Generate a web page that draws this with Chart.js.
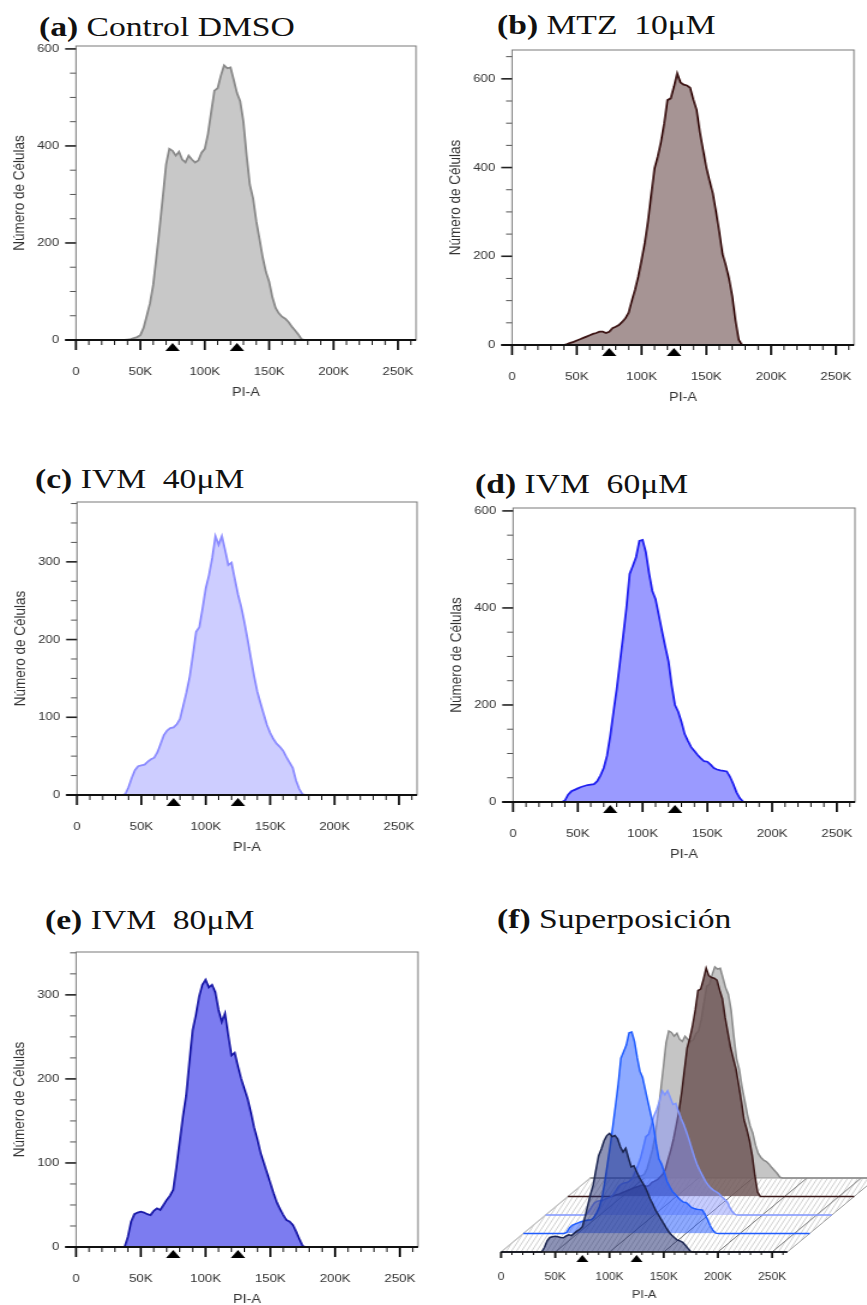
<!DOCTYPE html>
<html>
<head>
<meta charset="utf-8">
<script src="https://cdn.jsdelivr.net/npm/chart.js@4.4.1/dist/chart.umd.min.js"></script>
<style>
html, body { margin: 0; padding: 0; background: #fff; }
body { position: relative; width: 867px; height: 1305px; overflow: hidden; }
.ttl { position: absolute; font-family: "Liberation Serif", "Times New Roman", serif; font-size: 28px; line-height: 28px;
       white-space: nowrap; color: #111; transform: scaleX(1.2); transform-origin: 0 0; }
canvas { position: absolute; }
</style>
</head>
<body>
<div class="ttl" style="left:39px;top:12.6px"><b>(a)</b> Control DMSO</div>
<div class="ttl" style="left:497px;top:10.6px"><b>(b)</b> MTZ&nbsp; 10μM</div>
<div class="ttl" style="left:35px;top:464.6px"><b>(c)</b> IVM&nbsp; 40μM</div>
<div class="ttl" style="left:475px;top:469.6px"><b>(d)</b> IVM&nbsp; 60μM</div>
<div class="ttl" style="left:45px;top:905.6px"><b>(e)</b> IVM&nbsp; 80μM</div>
<div class="ttl" style="left:497px;top:904.6px"><b>(f)</b> Superposición</div>

<canvas id="cA"></canvas>
<canvas id="cB"></canvas>
<canvas id="cC"></canvas>
<canvas id="cD"></canvas>
<canvas id="cE"></canvas>
<canvas id="cF"></canvas>

<script>
// PI-A channel (thousands) and cell counts
const binsK = [0, 35, 37.5, 40, 42.5, 45, 47.5, 50, 52.5, 55, 57.5, 60, 62.5, 65, 67.5, 70, 72.5, 75, 77.5, 80, 82.5,
  85, 87.5, 90, 92.5, 95, 97.5, 100, 102.5, 105, 107.5, 110, 112.5, 115, 117.5, 120, 122.5, 125, 127.5, 130, 132.5,
  135, 137.5, 140, 142.5, 145, 147.5, 150, 152.5, 155, 157.5, 160, 162.5, 165, 167.5, 170, 172.5, 175, 177.5, 180, 264];

const controlDMSO = [0, 0, 0, 1, 2, 4, 6, 10, 25, 50, 76, 114, 172, 232, 296, 362, 394, 390, 380, 388, 372,
  366, 380, 372, 366, 370, 386, 394, 425, 470, 514, 519, 545, 566, 560, 562, 536, 509, 492, 450, 380,
  320, 292, 245, 208, 170, 140, 120, 88, 66, 55, 48, 44, 37, 28, 20, 12, 2, 0, 0, 0];

const mtz10 = [0, 0, 0, 0, 2, 5, 7, 10, 13, 16, 19, 22, 25, 27, 30, 30, 27, 30, 38, 41, 45,
  52, 60, 73, 100, 125, 155, 192, 230, 280, 340, 398, 425, 458, 500, 552, 556, 582, 612, 592, 587,
  585, 580, 553, 530, 480, 440, 400, 370, 342, 300, 255, 205, 180, 150, 110, 55, 12, 0, 0, 0];

const ivm40 = [0, 0, 1, 10, 22, 32, 37, 38, 39, 43, 46, 48, 55, 66, 77, 83, 86, 87, 91, 98, 115,
  132, 152, 180, 210, 216, 240, 266, 283, 305, 333, 322, 333, 315, 296, 299, 278, 258, 242, 222, 200,
  176, 153, 133, 118, 104, 90, 80, 72, 66, 62, 57, 49, 42, 35, 19, 8, 1, 0, 0, 0];

const ivm60 = [0, 0, 0, 3, 15, 22, 25, 28, 31, 33, 35, 36, 37, 43, 55, 70, 95, 136, 185, 232, 287,
  342, 400, 470, 487, 505, 538, 540, 515, 472, 435, 418, 385, 352, 320, 290, 240, 200, 186, 165, 140,
  126, 113, 105, 97, 90, 84, 83, 77, 70, 67, 65, 64, 63, 52, 37, 20, 8, 1, 0, 0];

const ivm80 = [0, 0, 0, 12, 30, 39, 41, 42, 41, 39, 38, 43, 46, 44, 50, 56, 61, 68, 95, 125, 155,
  180, 220, 258, 276, 298, 312, 318, 309, 312, 303, 282, 268, 278, 252, 228, 231, 215, 200, 188, 176,
  160, 142, 128, 112, 100, 88, 76, 64, 53, 45, 38, 32, 30, 26, 18, 9, 1, 0, 0, 0];

const markersK = [75, 125];
const xTickLabels = ['0', '50K', '100K', '150K', '200K', '250K'];

const S = 1.2; // the figure is stretched horizontally
const SANS = '"Liberation Sans", Arial, sans-serif';

function pts(vals) {
  return binsK.map((x, i) => ({ x: x, y: vals[i] }));
}

// fixed axis boxes, no extra label padding, so the plot areas land where the figure has them
function fixBox(size) {
  return s => {
    if (s.isHorizontal()) s.height = size; else s.width = size;
    s.paddingTop = 0; s.paddingBottom = 0; s.paddingLeft = 0; s.paddingRight = 0;
  };
}

const facsAxes = {
  id: 'facsAxes',
  afterDatasetsDraw(chart, args, o) {
    const ctx = chart.ctx, a = chart.chartArea, x = chart.scales.x, y = chart.scales.y;
    const yb = y.getPixelForValue(0);
    ctx.save();
    if (o.frame) {
      ctx.strokeStyle = '#7a7a7a';
      ctx.lineWidth = 1;
      ctx.strokeRect(a.left, a.top, a.right - a.left, a.bottom - a.top);
      y.ticks.forEach(t => {
        const py = y.getPixelForValue(t.value);
        const major = t.value % o.labelStep === 0;
        ctx.strokeStyle = major ? '#222' : '#555';
        ctx.lineWidth = major ? 1.6 : 1;
        ctx.beginPath();
        ctx.moveTo(a.left - (major ? 9 : 5), py);
        ctx.lineTo(a.left, py);
        ctx.stroke();
      });
    }
    ctx.strokeStyle = '#111';
    ctx.lineWidth = o.axisWidth;
    ctx.beginPath();
    ctx.moveTo(a.left - o.axisExt, yb);
    ctx.lineTo(a.right, yb);
    ctx.stroke();
    x.ticks.forEach(t => {
      if (t.value % 10 !== 0) return;
      const px = x.getPixelForValue(t.value);
      const major = t.value % 50 === 0;
      ctx.lineWidth = major ? 1.8 : 1;
      ctx.beginPath();
      ctx.moveTo(px, yb);
      ctx.lineTo(px, yb + (major ? o.majorLen : o.minorLen));
      ctx.stroke();
    });
    ctx.fillStyle = '#000';
    markersK.forEach(k => {
      const px = x.getPixelForValue(k);
      ctx.beginPath();
      ctx.moveTo(px, yb + o.markTop);
      ctx.lineTo(px + o.markW, yb + o.markTop + o.markH);
      ctx.lineTo(px - o.markW, yb + o.markTop + o.markH);
      ctx.closePath();
      ctx.fill();
    });
    ctx.restore();
  }
};

function makePanel(id, box, yMax, yStep, labelStep, vals, fill, line) {
  const cv = document.getElementById(id);
  const pageW = box.right - box.left + 76 + 12;
  const cw = Math.round(pageW / S);
  const ch = box.bottom - box.top + 8 + 65;
  cv.width = cw;
  cv.height = ch;
  cv.style.left = (box.left - 76) + 'px';
  cv.style.top = (box.top - 8) + 'px';
  cv.style.width = (cw * S) + 'px';
  cv.style.height = ch + 'px';

  new Chart(cv, {
    type: 'line',
    data: {
      datasets: [{
        data: pts(vals),
        fill: 'origin',
        backgroundColor: fill,
        borderColor: line,
        borderWidth: 1.8,
        pointRadius: 0,
        tension: 0
      }]
    },
    options: {
      responsive: false,
      animation: false,
      devicePixelRatio: 1,
      layout: { padding: { left: 0, top: 8, right: 10, bottom: 0 } },
      plugins: {
        legend: { display: false },
        tooltip: { enabled: false },
        facsAxes: { frame: true, labelStep: labelStep, axisWidth: 2, axisExt: 9, majorLen: 10, minorLen: 5,
                    markTop: 3, markW: 6, markH: 8 }
      },
      scales: {
        x: {
          type: 'linear', min: 0, max: 264,
          afterFit: fixBox(65),
          grid: { display: false, drawTicks: false },
          border: { display: false },
          ticks: {
            stepSize: 10, autoSkip: false, maxRotation: 0, includeBounds: false, padding: 25,
            color: '#333', font: { family: SANS, size: 11 },
            callback: v => (v % 50 === 0 ? xTickLabels[v / 50] : '')
          },
          title: { display: true, text: 'PI-A', color: '#333', font: { family: SANS, size: 12 },
                   padding: { top: 0, bottom: 5 } }
        },
        y: {
          min: 0, max: yMax,
          afterFit: fixBox(76 / S),
          grid: { display: false, drawTicks: false },
          border: { display: false },
          ticks: {
            stepSize: yStep, autoSkip: false, includeBounds: false, padding: 14,
            color: '#333', font: { family: SANS, size: 11 },
            callback: v => (v % labelStep === 0 ? String(v) : '')
          },
          title: { display: true, text: 'Número de Células', color: '#333', font: { family: SANS, size: 13.5 },
                   padding: { top: 8.6, bottom: 0 } }
        }
      }
    },
    plugins: [facsAxes]
  });
}

makePanel('cA', { left: 76, right: 416, top: 46, bottom: 340 }, 606, 50, 200, controlDMSO, '#c8c8c8', '#8a8a8a');
makePanel('cB', { left: 512, right: 854, top: 50, bottom: 345 }, 665, 50, 200, mtz10, '#a69494', '#3d1515');
makePanel('cC', { left: 77, right: 417, top: 502, bottom: 795 }, 377, 25, 100, ivm40, '#cdcdff', '#8c8cff');
makePanel('cD', { left: 513, right: 854, top: 508, bottom: 802 }, 606, 50, 200, ivm60, '#9a9aff', '#2020f0');
makePanel('cE', { left: 76, right: 418, top: 952, bottom: 1247 }, 351, 25, 100, ivm80, '#7c7cf0', '#1a1aa8');

// (f) overlay: each layer drawn on the same scales, shifted back and to the right
const layerDX = 22.25 / S, layerDY = 18.5;
const overlay = [
  { vals: ivm80, fill: 'rgba(28,40,110,0.5)', line: '#1b2550' },
  { vals: ivm60, fill: 'rgba(30,85,255,0.5)', line: '#1f5cff' },
  { vals: ivm40, fill: 'rgba(130,145,255,0.45)', line: '#7f95ff' },
  { vals: mtz10, fill: 'rgba(112,88,88,0.85)', line: '#3b1818' },
  { vals: controlDMSO, fill: 'rgba(150,150,150,0.55)', line: '#8a8a8a' }
];

function shiftLayer(ctx, i) {
  ctx.save();
  ctx.translate(i * layerDX, -i * layerDY);
}

// the shift has to be in place before the filler plugin paints each dataset,
// so it is set after the previous dataset (or before the first one)
const layer3d = {
  id: 'layer3d',
  beforeDatasetsDraw(chart) {
    const ctx = chart.ctx, x = chart.scales.x, y = chart.scales.y;
    const n = overlay.length - 1;
    const bx = n * layerDX, by = -n * layerDY;
    const x0 = x.getPixelForValue(0), x1 = x.getPixelForValue(264), yb = y.getPixelForValue(0);
    ctx.save();
    ctx.beginPath();
    ctx.moveTo(x0, yb);
    ctx.lineTo(x1, yb);
    ctx.lineTo(x1 + bx, yb + by);
    ctx.lineTo(x0 + bx, yb + by);
    ctx.closePath();
    ctx.strokeStyle = '#9a9a9a';
    ctx.lineWidth = 1;
    ctx.stroke();
    ctx.clip();
    ctx.strokeStyle = '#c4c4c4';
    ctx.lineWidth = 0.8;
    for (let hx = x0 - 80; hx < x1 + bx + 10; hx += 4.2) {
      ctx.beginPath();
      ctx.moveTo(hx, yb);
      ctx.lineTo(hx + 50, yb - 90);
      ctx.stroke();
    }
    ctx.strokeStyle = '#777';
    ctx.lineWidth = 1;
    [50, 100, 150, 200, 250].forEach(k => {
      const px = x.getPixelForValue(k);
      ctx.beginPath();
      ctx.moveTo(px, yb);
      ctx.lineTo(px + bx, yb + by);
      ctx.stroke();
    });
    ctx.restore();
    shiftLayer(ctx, n);
  },
  afterDatasetDraw(chart, args) {
    chart.ctx.restore();
    if (args.index > 0) shiftLayer(chart.ctx, args.index - 1);
  }
};

(function () {
  const cv = document.getElementById('cF');
  const cw = Math.round(387 / S);
  const ch = 365;
  cv.width = cw;
  cv.height = ch;
  cv.style.left = '480px';
  cv.style.top = '940px';
  cv.style.width = (cw * S) + 'px';
  cv.style.height = ch + 'px';
  const leftPad = 21 / S;
  const rightPad = cw - (307 / S);
  const topPad = 30;
  new Chart(cv, {
    type: 'line',
    data: {
      datasets: overlay.map(l => ({
        data: pts(l.vals),
        fill: 'origin',
        backgroundColor: l.fill,
        borderColor: l.line,
        borderWidth: 1.5,
        pointRadius: 0,
        tension: 0,
        clip: false
      }))
    },
    options: {
      responsive: false,
      animation: false,
      devicePixelRatio: 1,
      layout: { padding: { left: leftPad, top: topPad, right: rightPad, bottom: 0 } },
      plugins: {
        legend: { display: false },
        tooltip: { enabled: false },
        facsAxes: { frame: false, labelStep: 200, axisWidth: 1.6, axisExt: 0, majorLen: 6, minorLen: 3,
                    markTop: 3, markW: 5, markH: 7 }
      },
      scales: {
        x: {
          type: 'linear', min: 0, max: 264,
          afterFit: fixBox(53),
          grid: { display: false, drawTicks: false },
          border: { display: false },
          ticks: {
            stepSize: 10, autoSkip: false, maxRotation: 0, includeBounds: false, padding: 19,
            color: '#333', font: { family: SANS, size: 10 },
            callback: v => (v % 50 === 0 ? xTickLabels[v / 50] : '')
          },
          title: { display: true, text: 'PI-A', color: '#333', font: { family: SANS, size: 10.5 },
                   padding: { top: 0, bottom: 4 } }
        },
        y: { display: false, min: 0, max: (ch - 53 - topPad) * 2.68 }
      }
    },
    plugins: [layer3d, facsAxes]
  });
})();
</script>
</body>
</html>
